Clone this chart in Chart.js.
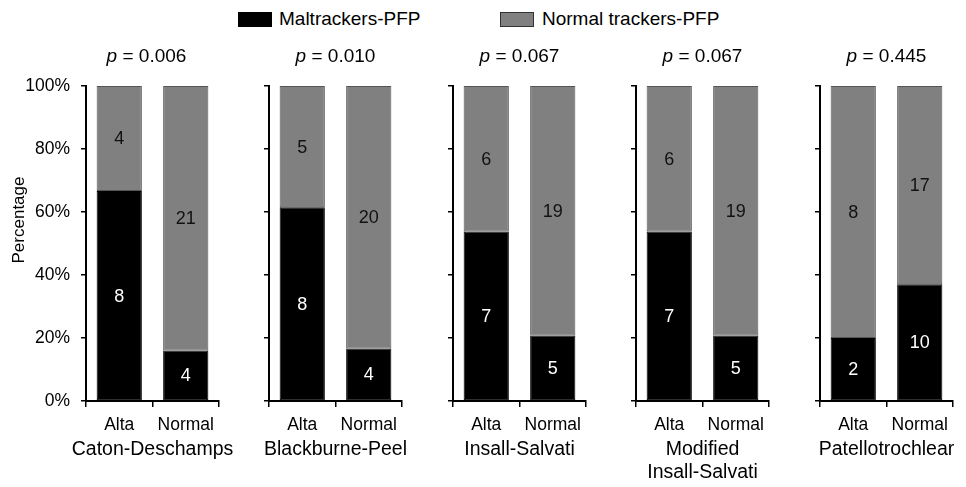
<!DOCTYPE html>
<html>
<head>
<meta charset="utf-8">
<script src="https://cdn.jsdelivr.net/npm/chart.js@4/dist/chart.umd.min.js"></script>
<style>
    html, body { margin: 0; padding: 0; background: #fff; }
    #wrap { position: relative; width: 966px; height: 487px; font-family: 'Liberation Sans', Arial, sans-serif; }
    #wrap canvas { position: absolute; top: 0; }
    .box { position: absolute; top: 12px; width: 32px; height: 13px; }
    .leg { position: absolute; top: 8px; font-size: 19px; line-height: 22px; color: #000; white-space: nowrap; }
</style>
</head>
<body>
<div id="wrap">
    <div class="box" style="left:238px;background:#000;border:1px solid #000;"></div>
    <div class="leg" style="left:279px;">Maltrackers-PFP</div>
    <div class="box" style="left:500px;background:#808080;border:1px solid #333;"></div>
    <div class="leg" style="left:542px;">Normal trackers-PFP</div>
</div>
<script>
// data
const methods = ['Caton-Deschamps', 'Blackburne-Peel', 'Insall-Salvati', ['Modified', 'Insall-Salvati'], 'Patellotrochlear'];
const pValues = ['0.006', '0.010', '0.067', '0.067', '0.445'];
const groups = ['Alta', 'Normal'];
// counts per method: [Alta, Normal]
const maltrackers = [[8, 4], [8, 4], [7, 5], [7, 5], [2, 10]];
const normalTrackers = [[4, 21], [5, 20], [6, 19], [6, 19], [8, 17]];
const yTicks = [0, 20, 40, 60, 80, 100];

const FONT = "'Liberation Sans', Arial, sans-serif";
const AXIS_X = [86, 269, 453, 636, 820];
const PLOT_W = 133;

const valueLabels = {
    id: 'valueLabels',
    afterDatasetsDraw(chart) {
        const ctx = chart.ctx;
        ctx.save();
        ctx.font = '18px ' + FONT;
        ctx.textAlign = 'center';
        ctx.textBaseline = 'middle';
        chart.data.datasets.forEach((ds, d) => {
            chart.getDatasetMeta(d).data.forEach((bar, k) => {
                ctx.fillStyle = ds.textColor;
                ctx.fillText(ds.counts[k], bar.x, (bar.y + bar.base) / 2 + 1);
            });
        });
        ctx.restore();
    }
};

// p-value above the panel (italic p), method name under the axis, y title
const panelText = {
    id: 'panelText',
    afterDraw(chart, args, opts) {
        const ctx = chart.ctx;
        const area = chart.chartArea;
        const cx = (area.left + area.right) / 2;
        ctx.save();
        ctx.fillStyle = '#000';
        ctx.textBaseline = 'middle';

        ctx.font = 'italic 19px ' + FONT;
        const pW = ctx.measureText('p').width;
        ctx.font = '19px ' + FONT;
        const rest = ' = ' + opts.text;
        const rW = ctx.measureText(rest).width;
        const x = cx - (pW + rW) / 2 - opts.shift;
        ctx.textAlign = 'left';
        ctx.font = 'italic 19px ' + FONT;
        ctx.fillText('p', x, 57);
        ctx.font = '19px ' + FONT;
        ctx.fillText(rest, x + pW, 57);

        ctx.textAlign = 'center';
        ctx.font = '19.5px ' + FONT;
        [].concat(opts.method).forEach((line, n) => {
            ctx.fillText(line, cx, 450 + n * 23);
        });

        if (opts.yTitle) {
            ctx.translate(19, 220);
            ctx.rotate(-Math.PI / 2);
            ctx.font = '17px ' + FONT;
            ctx.fillText(opts.yTitle, 0, 0);
        }
        ctx.restore();
    }
};

const wrap = document.getElementById('wrap');

methods.forEach((method, i) => {
    const yW = i === 0 ? 86 : 30;
    const canvas = document.createElement('canvas');
    canvas.width = yW + PLOT_W + 14;
    canvas.height = 487;
    canvas.style.left = (AXIS_X[i] - yW) + 'px';
    wrap.appendChild(canvas);

    const totals = groups.map((g, k) => maltrackers[i][k] + normalTrackers[i][k]);

    new Chart(canvas, {
        type: 'bar',
        plugins: [valueLabels, panelText],
        data: {
            labels: groups,
            datasets: [
                {
                    label: 'Maltrackers-PFP',
                    data: maltrackers[i].map((v, k) => v / totals[k] * 100),
                    counts: maltrackers[i],
                    textColor: '#fff',
                    backgroundColor: '#000',
                    borderColor: '#000',
                    borderWidth: 1,
                },
                {
                    label: 'Normal trackers-PFP',
                    data: normalTrackers[i].map((v, k) => v / totals[k] * 100),
                    counts: normalTrackers[i],
                    textColor: '#111',
                    backgroundColor: '#808080',
                    borderColor: '#555',
                    borderWidth: 1,
                }
            ]
        },
        options: {
            responsive: false,
            animation: false,
            layout: { padding: { top: 86, right: 14, left: 0, bottom: 0 } },
            datasets: { bar: { categoryPercentage: 1, barPercentage: 0.68, borderSkipped: false } },
            plugins: {
                legend: { display: false },
                tooltip: { enabled: false },
                panelText: {
                    text: pValues[i],
                    method: method,
                    shift: i === 0 ? 6 : 0,
                    yTitle: i === 0 ? 'Percentage' : null
                }
            },
            scales: {
                x: {
                    stacked: true,
                    grid: { offset: true, drawOnChartArea: false, color: '#000', lineWidth: 1.5, tickLength: 6 },
                    border: { color: '#000', width: 2 },
                    ticks: { color: '#000', padding: 8, font: { size: 17.5, family: FONT } },
                    afterFit: (scale) => { scale.height = 86; }
                },
                y: {
                    stacked: true,
                    min: 0,
                    max: 100,
                    afterBuildTicks: (scale) => { scale.ticks = yTicks.map(v => ({ value: v })); },
                    ticks: {
                        color: '#000',
                        padding: 11,
                        font: { size: 17.5, family: FONT },
                        callback: (v) => i === 0 ? v + '%' : ''
                    },
                    grid: { drawOnChartArea: false, color: '#000', lineWidth: 1.5, tickLength: 5 },
                    border: { color: '#000', width: 2 },
                    afterFit: (scale) => { scale.width = yW; }
                }
            }
        }
    });
});
</script>
</body>
</html>
